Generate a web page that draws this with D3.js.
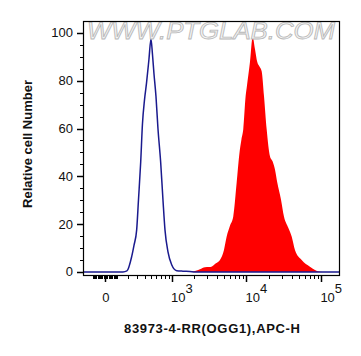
<!DOCTYPE html>
<html>
<head>
<meta charset="utf-8">
<script src="https://cdn.jsdelivr.net/npm/d3@7"></script>
<style>
html,body{margin:0;padding:0;background:#fff;}
svg{display:block;}
text{font-family:"Liberation Sans",Arial,sans-serif;}
</style>
</head>
<body>
<svg id="chart" width="361" height="356"></svg>
<script>
// Data (fluorescence channel values, relative cell number)
const controlX = [-189, 151, 189, 238, 263, 295, 317, 346, 370, 399, 429, 468, 502, 529, 556, 595, 636, 695, 750, 800, 881, 991, 1161, 1414, 1758, 2053, 177000];
const controlY = [0, 0, 0.4, 6.4, 11, 17.6, 30, 46, 62, 72, 79, 89, 97.5, 91, 83, 73.5, 60, 46, 30, 17.6, 8.4, 3, 0.5, 0.3, 0.2, 0, 0];
const sampleX = [1758, 2053, 2396, 2796, 3162, 3468, 3923, 4436, 5018, 5452, 6033, 6677, 7413, 8029, 8591, 9077, 9771, 10169, 11152, 12116, 13003, 13955, 14930, 15974, 17144, 18624, 20612, 22393, 24032, 25790, 28894, 31681, 36153, 40131, 44408, 54561, 70356, 95680, 111592];
const sampleY = [0, 0.4, 1.1, 1.9, 2.0, 2.3, 3.6, 5, 9.2, 14.8, 19.3, 23.2, 37.4, 49, 55.5, 59.7, 73.7, 77.9, 87.8, 98.2, 93.3, 87.8, 86, 84, 73.7, 59.7, 48.4, 46.2, 42.9, 37.4, 30.3, 23.2, 18.5, 14.8, 9.2, 5, 2.2, 0.1, 0];
const yTicks = [0, 20, 40, 60, 80, 100];
const xMajorTicks = [0, 1000, 10000, 100000];
const xMajorLabels = [["0", ""], ["10", "3"], ["10", "4"], ["10", "5"]];
const xMinorTicks = [-100,-90,-80,-70,-60,-50,-40,-30,-20,-10,10,20,30,40,50,60,70,80,90,100,
  200,300,400,500,600,700,800,900,
  2000,3000,4000,5000,6000,7000,8000,9000,
  20000,30000,40000,50000,60000,70000,80000,90000];
const xTitle = "83973-4-RR(OGG1),APC-H";
const yTitle = "Relative cell Number";
const watermark = "WWW.PTGLAB.COM";

const svg = d3.select("#chart");
const L = 83, R = 340, T = 21, B = 275;
const C = 260;
const tf = v => Math.asinh(v / C);
const xLin = d3.scaleLinear().domain([tf(-189), tf(177000)]).range([L, R]);
const x = v => xLin(tf(v));
const y = d3.scaleLinear().domain([-1.3, 105]).range([B, T]);

const ctrl = controlX.map((v, i) => [v, controlY[i]]);
const samp = sampleX.map((v, i) => [v, sampleY[i]]);

// sample filled histogram
svg.append("path")
  .datum(samp)
  .attr("d", d3.area().x(d => x(d[0])).y0(y(0)).y1(d => y(d[1])).curve(d3.curveMonotoneX))
  .attr("fill", "#ff0000").attr("stroke", "none");

// control line
svg.append("path")
  .datum(ctrl)
  .attr("d", d3.line().x(d => x(d[0])).y(d => y(d[1])).curve(d3.curveMonotoneX))
  .attr("fill", "none").attr("stroke", "#1a1a8e").attr("stroke-width", 1.5);

// watermark
svg.append("text")
  .attr("x", 87).attr("y", 39)
  .attr("textLength", 248).attr("lengthAdjust", "spacingAndGlyphs")
  .attr("font-size", 23).attr("font-style", "italic")
  .attr("fill", "#f4f4f4").attr("stroke", "#b8b8b8").attr("stroke-width", 0.8)
  .text(watermark);

// frame
svg.append("rect")
  .attr("x", L + 0.5).attr("y", T + 0.5).attr("width", R - L - 1).attr("height", B - T)
  .attr("fill", "none").attr("stroke", "#000").attr("stroke-width", 1.2);

// y axis ticks
const yMinor = d3.range(0, 101, 5);
svg.append("g").selectAll("line").data(yMinor).join("line")
  .attr("x1", L + 0.5).attr("x2", d => d % 20 === 0 ? L - 6 : L - 3)
  .attr("y1", d => Math.round(y(d)) + 0.5).attr("y2", d => Math.round(y(d)) + 0.5)
  .attr("stroke", "#000").attr("stroke-width", d => d % 20 === 0 ? 1.5 : 1);
svg.append("g").selectAll("text").data(yTicks).join("text")
  .attr("x", 73).attr("y", d => y(d) + 4.5)
  .attr("text-anchor", "end").attr("font-size", 13).attr("fill", "#111")
  .text(d => d);

// x axis ticks
svg.append("g").selectAll("line").data(xMinorTicks).join("line")
  .attr("x1", d => Math.round(x(d)) + 0.5).attr("x2", d => Math.round(x(d)) + 0.5)
  .attr("y1", B).attr("y2", B + 4)
  .attr("stroke", "#000").attr("stroke-width", 1);
svg.append("g").selectAll("line").data(xMajorTicks).join("line")
  .attr("x1", d => Math.round(x(d)) + 0.5).attr("x2", d => Math.round(x(d)) + 0.5)
  .attr("y1", B).attr("y2", B + 7)
  .attr("stroke", "#000").attr("stroke-width", 1.5);
const xl = svg.append("g").selectAll("text").data(xMajorTicks).join("text")
  .attr("x", (d, i) => i === 0 ? x(d) + 1 : x(d) - 1)
  .attr("y", 302)
  .attr("text-anchor", (d, i) => i === 0 ? "middle" : "start")
  .attr("font-size", 13).attr("fill", "#111");
xl.append("tspan").text((d, i) => xMajorLabels[i][0]);
xl.append("tspan").attr("dy", -9).attr("font-size", 13).text((d, i) => xMajorLabels[i][1]);

// titles
svg.append("text")
  .attr("x", 212).attr("y", 333).attr("text-anchor", "middle")
  .attr("textLength", 176).attr("lengthAdjust", "spacing")
  .attr("font-size", 13).attr("font-weight", "bold").attr("fill", "#111")
  .text(xTitle);
svg.append("text")
  .attr("transform", "translate(32,144) rotate(-90)").attr("text-anchor", "middle")
  .attr("font-size", 13).attr("font-weight", "bold").attr("fill", "#111")
  .text(yTitle);
</script>
</body>
</html>
